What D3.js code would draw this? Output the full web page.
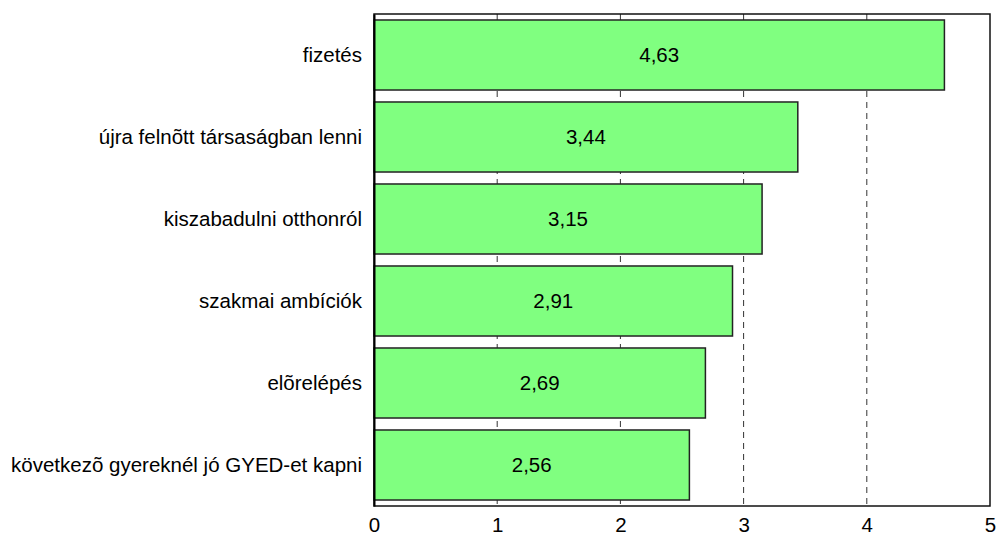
<!DOCTYPE html>
<html><head><meta charset="utf-8">
<script src="https://cdn.jsdelivr.net/npm/d3@7"></script>
<style>body{margin:0;background:#fff}svg text{font-family:"Liberation Sans",Arial,sans-serif;fill:#000}</style>
</head><body><svg id="c" width="997" height="538"></svg>
<script>
const categories = ["fizetés","újra felnõtt társaságban lenni","kiszabadulni otthonról","szakmai ambíciók","elõrelépés","következõ gyereknél jó GYED-et kapni"];
const values = [4.63,3.44,3.15,2.91,2.69,2.56];
const valueLabels = ["4,63","3,44","3,15","2,91","2,69","2,56"];
const ticks = [0,1,2,3,4,5];

const svg = d3.select("#c");
const L=374,R=990,T=14,B=506;
const FS=20.5;
const x = d3.scaleLinear().domain([0,5]).range([L,R]);
const y = d3.scaleBand().domain(categories).range([T,B]).paddingInner(0.146).paddingOuter(0.073);

// dashed gridlines
svg.append("g").selectAll("line").data(ticks.filter(d=>d>0&&d<5)).join("line")
 .attr("x1",d=>x(d)).attr("x2",d=>x(d)).attr("y1",T).attr("y2",B)
 .attr("stroke","#333").attr("stroke-width",1).attr("stroke-dasharray","6,5");

// bars
svg.append("g").selectAll("rect").data(values).join("rect")
 .attr("x",x(0)).attr("y",(d,i)=>y(categories[i]))
 .attr("width",d=>x(d)-x(0)).attr("height",y.bandwidth())
 .attr("fill","#80ff80").attr("stroke","#222").attr("stroke-width",1.5);

// value labels
svg.append("g").selectAll("text").data(values).join("text")
 .attr("x",d=>(x(0)+x(d))/2).attr("y",(d,i)=>y(categories[i])+y.bandwidth()/2)
 .attr("text-anchor","middle").attr("dy","0.36em").attr("font-size",FS)
 .text((d,i)=>valueLabels[i]);

// frame
svg.append("rect").attr("x",L).attr("y",T).attr("width",R-L).attr("height",B-T)
 .attr("fill","none").attr("stroke","#111").attr("stroke-width",1.5);

// y axis labels
const ya = d3.axisLeft(y).tickSize(0).tickPadding(12);
svg.append("g").attr("transform",`translate(${L},0)`).call(ya)
 .call(g=>g.select(".domain").attr("stroke","#000").attr("stroke-width",2))
 .selectAll("text").attr("font-size",FS).attr("font-family","Liberation Sans, Arial, sans-serif");

// x axis
const xa = d3.axisBottom(x).tickValues(ticks).tickSize(0).tickPadding(11).tickFormat(d3.format("d"));
svg.append("g").attr("transform",`translate(0,${B})`).call(xa)
 .call(g=>g.select(".domain").remove())
 .selectAll("text").attr("font-size",FS).attr("font-family","Liberation Sans, Arial, sans-serif");
</script></body></html>
